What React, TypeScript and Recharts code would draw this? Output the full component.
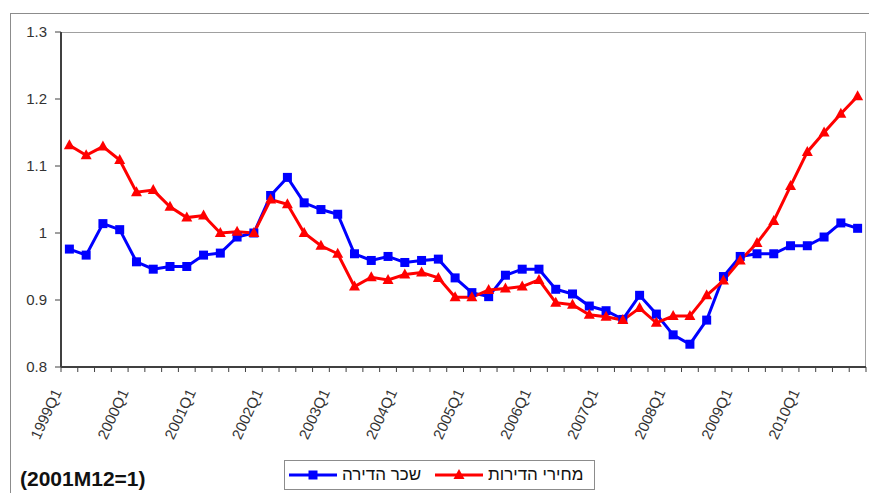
import React from "react";
import { LineChart, Line, XAxis, YAxis } from "recharts";

const years = [1999, 2000, 2001, 2002, 2003, 2004, 2005, 2006, 2007, 2008, 2009, 2010];
const quarters = years.flatMap((y) => ["Q1", "Q2", "Q3", "Q4"].map((q) => `${y}${q}`));

// שכר הדירה (rent), 2001M12 = 1
const rentIndex = [
  0.976, 0.967, 1.014, 1.005, 0.957, 0.946, 0.95, 0.95,
  0.967, 0.97, 0.994, 1.0, 1.056, 1.083, 1.045, 1.035,
  1.028, 0.969, 0.959, 0.965, 0.956, 0.959, 0.961, 0.933,
  0.911, 0.905, 0.937, 0.946, 0.946, 0.916, 0.909, 0.891,
  0.884, 0.871, 0.907, 0.879, 0.848, 0.834, 0.87, 0.935,
  0.965, 0.969, 0.969, 0.981, 0.981, 0.994, 1.015, 1.007,
];

// מחירי הדירות (house prices), 2001M12 = 1
const priceIndex = [
  1.131, 1.116, 1.129, 1.109, 1.061, 1.064, 1.039, 1.023,
  1.026, 1.0, 1.002, 1.0, 1.05, 1.043, 1.0, 0.981,
  0.969, 0.92, 0.934, 0.93, 0.938, 0.941, 0.933, 0.904,
  0.904, 0.915, 0.917, 0.92, 0.93, 0.896, 0.893, 0.878,
  0.875, 0.87, 0.888, 0.866, 0.876, 0.876, 0.907, 0.929,
  0.959, 0.985, 1.018, 1.07, 1.121, 1.15, 1.178, 1.204,
];

const yTicks = [0.8, 0.9, 1, 1.1, 1.2, 1.3];

const data = quarters.map((q, i) => ({
  idx: i,
  quarter: q,
  rent: rentIndex[i],
  price: priceIndex[i],
}));

// tick marks sit between the quarters, like the excel original
const boundaries = [...quarters.map((_, i) => i - 0.5), quarters.length - 0.5];

const font = "'Liberation Sans', Arial, sans-serif";

const XTick = (props: any) => {
  const { x, y, payload } = props;
  const c = Math.round(payload.value + 0.5);
  const label = c % 4 === 0 ? quarters[c] : undefined;
  if (!label) return <g />;
  const ax = x + 1;
  const ay = y + 18;
  return (
    <text
      x={ax}
      y={ay}
      transform={`rotate(-65 ${ax} ${ay})`}
      textAnchor="end"
      fontSize={15}
      fontFamily={font}
      fill="#333"
    >
      {label}
    </text>
  );
};

const SquareDot = (props: any) => {
  const { cx, cy, index } = props;
  if (cx == null || cy == null) return <g key={index} />;
  return <rect key={index} x={cx - 4.5} y={cy - 4.5} width={9} height={9} fill="#0000ff" />;
};

const TriangleDot = (props: any) => {
  const { cx, cy, index } = props;
  if (cx == null || cy == null) return <g key={index} />;
  return (
    <polygon
      key={index}
      points={`${cx},${cy - 6} ${cx + 5.5},${cy + 4} ${cx - 5.5},${cy + 4}`}
      fill="#ff0000"
    />
  );
};

export default function App() {
  return (
    <div
      style={{
        position: "absolute",
        left: 0,
        top: 0,
        width: 869,
        height: 493,
        overflow: "hidden",
        background: "#fff",
        fontFamily: font,
      }}
    >
      <div
        style={{
          position: "absolute",
          left: 10,
          top: 13,
          width: 880,
          height: 500,
          border: "1px solid #8c8c8c",
        }}
      />
      <div
        style={{
          position: "absolute",
          left: 61,
          top: 32,
          width: 805,
          height: 335,
          borderTop: "1px solid #a0a0a0",
          borderRight: "1px solid #a0a0a0",
          boxSizing: "border-box",
        }}
      />
      <div style={{ position: "absolute", left: 0, top: 0 }}>
        <LineChart width={869} height={493} data={data} margin={{ top: 32, right: 3, bottom: 0, left: 0 }}>
          <XAxis
            dataKey="idx"
            type="number"
            domain={[-0.5, quarters.length - 0.5]}
            ticks={boundaries}
            interval={0}
            height={126}
            tick={<XTick />}
            tickSize={5}
            axisLine={{ stroke: "#404040", strokeWidth: 2 }}
            tickLine={{ stroke: "#404040" }}
          />
          <YAxis
            domain={[0.8, 1.3]}
            ticks={yTicks}
            interval={0}
            width={61}
            tickSize={6}
            tickMargin={8}
            tickFormatter={(v: number) => `${Number(v.toFixed(1))}`}
            tick={{ fontSize: 15, fill: "#333", fontFamily: font }}
            axisLine={{ stroke: "#404040", strokeWidth: 2 }}
            tickLine={{ stroke: "#404040" }}
          />
          <Line
            dataKey="rent"
            stroke="#0000ff"
            strokeWidth={3}
            dot={<SquareDot />}
            activeDot={false}
            isAnimationActive={false}
          />
          <Line
            dataKey="price"
            stroke="#ff0000"
            strokeWidth={3}
            dot={<TriangleDot />}
            activeDot={false}
            isAnimationActive={false}
          />
        </LineChart>
      </div>

      <div
        style={{
          position: "absolute",
          left: 20,
          top: 467,
          fontSize: 21,
          fontWeight: "bold",
          color: "#111",
          whiteSpace: "nowrap",
        }}
      >
        (2001M12=1)
      </div>

      <div
        style={{
          position: "absolute",
          left: 284,
          top: 460,
          width: 311,
          height: 30,
          border: "1px solid #8c8c8c",
          boxSizing: "border-box",
        }}
      >
        <svg style={{ position: "absolute", left: 4, top: 8 }} width={48} height={12}>
          <line x1={0} y1={6} x2={48} y2={6} stroke="#0000ff" strokeWidth={3} />
          <rect x={19.5} y={1.5} width={9} height={9} fill="#0000ff" />
        </svg>
        <span
          style={{ position: "absolute", left: 57, top: 4, fontSize: 17, color: "#111", whiteSpace: "nowrap" }}
        >
          שכר הדירה
        </span>
        <svg style={{ position: "absolute", left: 150, top: 8 }} width={48} height={12}>
          <line x1={0} y1={6} x2={48} y2={6} stroke="#ff0000" strokeWidth={3} />
          <polygon points="24,0 29.5,10 18.5,10" fill="#ff0000" />
        </svg>
        <span
          style={{ position: "absolute", left: 203, top: 4, fontSize: 17, color: "#111", whiteSpace: "nowrap" }}
        >
          מחירי הדירות
        </span>
      </div>
    </div>
  );
}
